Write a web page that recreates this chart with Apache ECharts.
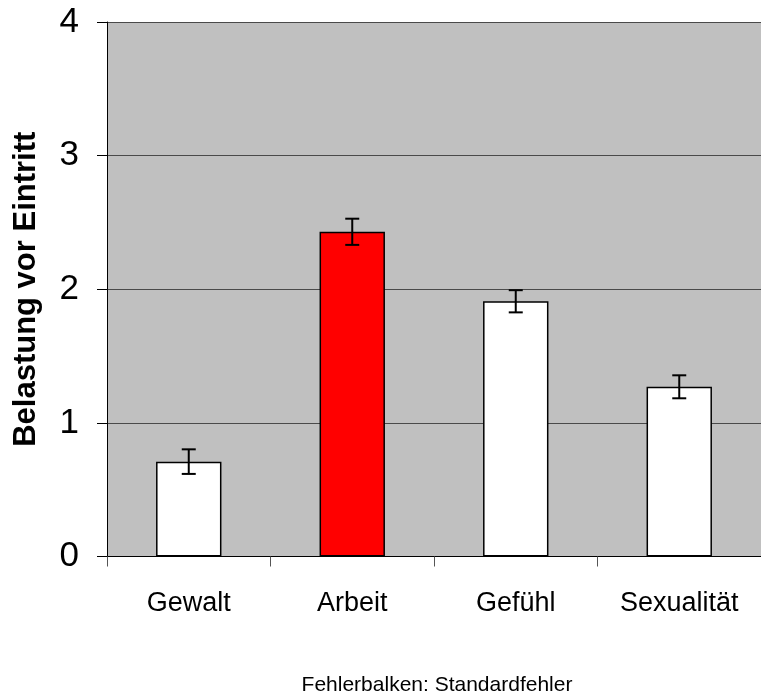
<!DOCTYPE html>
<html><head><meta charset="utf-8">
<script src="https://cdn.jsdelivr.net/npm/echarts@6/dist/echarts.min.js"></script>
<style>html,body{margin:0;padding:0;background:#fff}#c{width:761px;height:695px}</style>
</head><body><div id="c"></div>
<script>
const categories = ['Gewalt', 'Arbeit', 'Gefühl', 'Sexualität'];
const means = [0.71, 2.43, 1.91, 1.27];
const stdErrors = [0.092, 0.098, 0.083, 0.086];
const barColors = ['#ffffff', '#ff0000', '#ffffff', '#ffffff'];
const yTicks = [0, 1, 2, 3, 4];

const font = '"Liberation Sans", Arial, sans-serif';
const chart = echarts.init(document.getElementById('c'));
chart.setOption({
  animation: false,
  grid: { left: 107, top: 22, right: -6, bottom: 138.5, show: true, backgroundColor: '#c0c0c0', borderWidth: 0 },
  xAxis: {
    type: 'category', data: categories,
    axisLine: { lineStyle: { color: '#000', width: 1 } },
    axisTick: { show: true, length: 10, lineStyle: { color: '#555' } },
    axisLabel: { fontFamily: font, fontSize: 27, color: '#000', margin: 34 }
  },
  yAxis: {
    type: 'value', min: yTicks[0], max: yTicks[yTicks.length - 1], interval: 1,
    name: 'Belastung vor Eintritt', nameLocation: 'middle', nameGap: 65,
    nameTextStyle: { fontFamily: font, fontSize: 31, fontWeight: 'bold', color: '#000' },
    axisLine: { show: true, lineStyle: { color: '#000', width: 1 } },
    axisTick: { show: true, length: 10, lineStyle: { color: '#000' } },
    axisLabel: { fontFamily: font, fontSize: 35, color: '#000', margin: 28 },
    splitLine: { lineStyle: { color: '#4a4a4a', width: 1 } }
  },
  series: [
    {
      type: 'bar', barCategoryGap: '60%',
      data: means.map((v, i) => ({ value: v, itemStyle: { color: barColors[i] } })),
      itemStyle: { borderColor: '#000', borderWidth: 1.5 }
    },
    {
      type: 'custom',
      data: means.map((v, i) => [i, v - stdErrors[i], v + stdErrors[i]]),
      renderItem: function (params, api) {
        const lo = api.coord([api.value(0), api.value(1)]);
        const hi = api.coord([api.value(0), api.value(2)]);
        const hw = 7;
        const st = { stroke: '#000', lineWidth: 2 };
        return { type: 'group', children: [
          { type: 'line', shape: { x1: lo[0], y1: lo[1], x2: hi[0], y2: hi[1] }, style: st },
          { type: 'line', shape: { x1: lo[0] - hw, y1: lo[1], x2: lo[0] + hw, y2: lo[1] }, style: st },
          { type: 'line', shape: { x1: hi[0] - hw, y1: hi[1], x2: hi[0] + hw, y2: hi[1] }, style: st }
        ]};
      },
      z: 10
    }
  ],
  graphic: [{
    type: 'text', x: 437, y: 685,
    style: { text: 'Fehlerbalken: Standardfehler', fontFamily: font, fontSize: 21, fill: '#000', align: 'center', verticalAlign: 'middle' }
  }]
});
</script></body></html>
